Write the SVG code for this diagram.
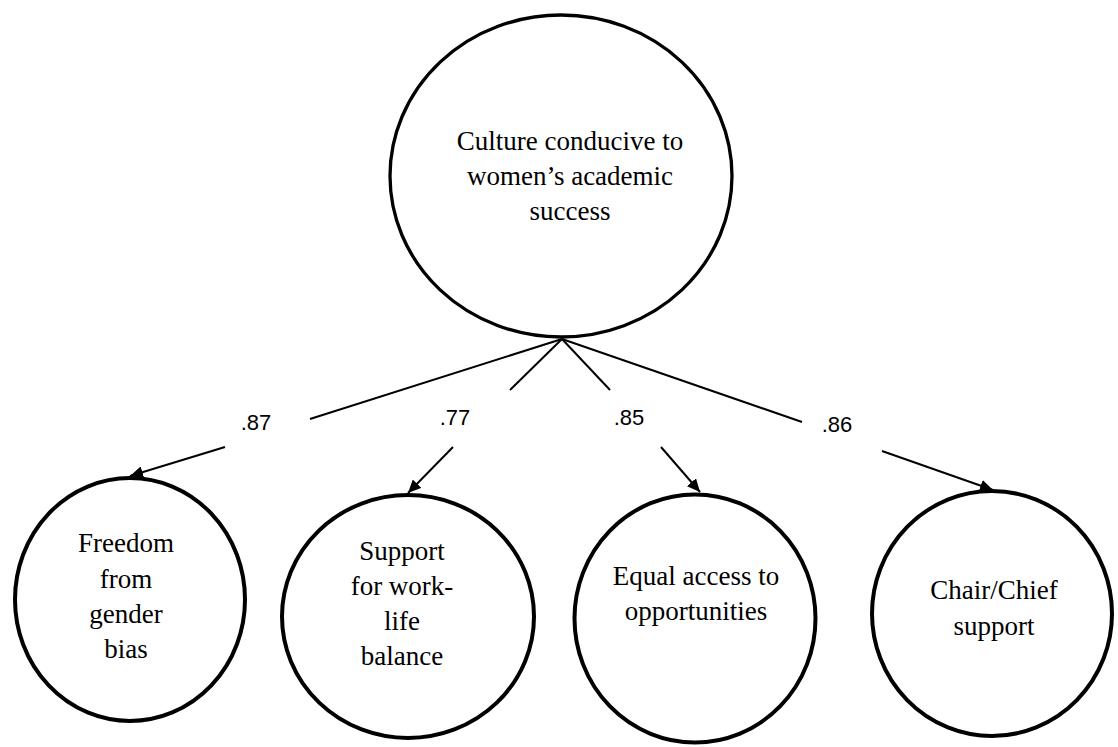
<svg xmlns="http://www.w3.org/2000/svg" width="1118" height="747" viewBox="0 0 1118 747">
<style>
.node{fill:#fff;stroke:#000;stroke-width:4}
.top{stroke-width:3.3}
.t{font-family:"Liberation Serif","Times New Roman",serif;font-size:27px;fill:#000;text-anchor:middle}
.c{stroke:#000;stroke-width:2;fill:none}
.lbl{font-family:"Liberation Sans",Arial,sans-serif;font-size:22px;fill:#000;text-anchor:middle}
</style>
<defs>
<marker id="ah" markerUnits="userSpaceOnUse" markerWidth="14" markerHeight="12" refX="13" refY="6" orient="auto">
<path d="M0,0 L13,6 L0,12 z" fill="#000"/>
</marker>
</defs>
<rect width="1118" height="747" fill="#fff"/>
<g id="culture">
<ellipse class="node top" cx="561" cy="176" rx="171" ry="161"/>
<text class="t" x="570" y="150">Culture conducive to</text>
<text class="t" x="570" y="185">women’s academic</text>
<text class="t" x="570" y="220">success</text>
</g>
<g id="freedom">
<ellipse class="node" cx="130" cy="599.5" rx="115" ry="121.5"/>
<text class="t" x="126" y="552">Freedom</text>
<text class="t" x="126" y="588">from</text>
<text class="t" x="126" y="623">gender</text>
<text class="t" x="126" y="658">bias</text>
</g>
<g id="support">
<ellipse class="node" cx="408" cy="616.5" rx="126" ry="121.5"/>
<text class="t" x="402" y="560">Support</text>
<text class="t" x="402" y="595">for work-</text>
<text class="t" x="402" y="630">life</text>
<text class="t" x="402" y="665">balance</text>
</g>
<g id="equal">
<ellipse class="node" cx="695" cy="618.5" rx="120.5" ry="124"/>
<text class="t" x="696" y="585">Equal access to</text>
<text class="t" x="696" y="620">opportunities</text>
</g>
<g id="chair">
<ellipse class="node" cx="992" cy="613.5" rx="120" ry="122.5"/>
<text class="t" x="994" y="599">Chair/Chief</text>
<text class="t" x="994" y="635">support</text>
</g>
<g id="connectors">
<line class="c" x1="562" y1="339" x2="310" y2="419"/>
<line class="c" x1="225" y1="447" x2="130" y2="476" marker-end="url(#ah)"/>
<line class="c" x1="562" y1="339" x2="510" y2="390"/>
<line class="c" x1="453" y1="447" x2="408" y2="493" marker-end="url(#ah)"/>
<line class="c" x1="562" y1="339" x2="610" y2="390"/>
<line class="c" x1="661" y1="447" x2="700" y2="492" marker-end="url(#ah)"/>
<line class="c" x1="562" y1="339" x2="802" y2="422"/>
<line class="c" x1="882" y1="451" x2="993" y2="490" marker-end="url(#ah)"/>
<text class="lbl" x="256" y="430">.87</text>
<text class="lbl" x="455" y="425">.77</text>
<text class="lbl" x="629" y="425">.85</text>
<text class="lbl" x="837" y="432">.86</text>
</g>
</svg>
